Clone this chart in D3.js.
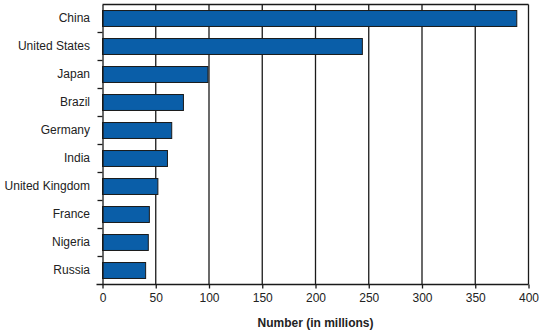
<!DOCTYPE html>
<html><head><meta charset="utf-8">
<script src="https://cdn.jsdelivr.net/npm/d3@7"></script>
<style>body{margin:0;background:#fff}svg{display:block}text{font-family:"Liberation Sans",Arial,sans-serif}</style>
</head><body><svg id="c" width="540" height="334"></svg>
<script>
const categories = ["China","United States","Japan","Brazil","Germany","India","United Kingdom","France","Nigeria","Russia"];
const values = [389, 244, 99, 76, 65, 61, 52, 44, 43, 40.5];
const xTicks = [0,50,100,150,200,250,300,350,400];
const xTitle = "Number (in millions)";

const svg = d3.select("#c");
const m = {l:102.5, r:528.5, t:4.5, b:284.5};
const x = d3.scaleLinear().domain([0,400]).range([m.l, m.r]);
const y = d3.scaleBand().domain(categories).range([m.t, m.b]).paddingInner(0.43).paddingOuter(0.215);
const yb = d3.scaleBand().domain(categories).range([m.t, m.b]);

// grid lines
svg.append("g").selectAll("line").data(xTicks.slice(1)).join("line")
  .attr("x1", d=>x(d)).attr("x2", d=>x(d)).attr("y1", m.t).attr("y2", m.b)
  .attr("stroke","#1a1a1a").attr("stroke-width",1.3);
// top border
svg.append("line").attr("x1",m.l).attr("x2",m.r).attr("y1",m.t).attr("y2",m.t)
  .attr("stroke","#1a1a1a").attr("stroke-width",1.3);

// bars
svg.append("g").selectAll("rect").data(values).join("rect")
  .attr("x", x(0)).attr("y",(d,i)=>y(categories[i]))
  .attr("width", d=>x(d)-x(0)).attr("height", y.bandwidth())
  .attr("fill","#0a5ea8").attr("stroke","#1a1a1a").attr("stroke-width",1);

// y axis
const ya = d3.axisLeft(yb).tickSize(0).tickPadding(12.5);
const yg = svg.append("g").attr("transform",`translate(${m.l},0)`).call(ya);
yg.select(".domain").attr("stroke","#1a1a1a").attr("stroke-width",1.3);
yg.selectAll("text").attr("font-size",12).attr("fill","#222");
// y ticks at band boundaries
svg.append("g").selectAll("line").data(categories.slice(1)).join("line")
  .attr("x1",m.l-5).attr("x2",m.l).attr("y1",d=>yb(d)).attr("y2",d=>yb(d))
  .attr("stroke","#1a1a1a").attr("stroke-width",1.3);

// x axis
const xa = d3.axisBottom(x).tickValues(xTicks).tickSize(4).tickPadding(5).tickSizeOuter(0);
const xg = svg.append("g").attr("transform",`translate(0,${m.b})`).call(xa);
xg.select(".domain").remove();
xg.append("line").attr("x1",m.l-6).attr("x2",m.r).attr("stroke","#1a1a1a").attr("stroke-width",1.3);
xg.selectAll(".tick line").attr("stroke","#1a1a1a").attr("stroke-width",1.3);
xg.selectAll("text").attr("font-size",12).attr("fill","#222");

svg.append("text").attr("x",(m.l+m.r)/2).attr("y",327).attr("text-anchor","middle")
  .attr("font-size",12).attr("font-weight","bold").attr("fill","#222").text(xTitle);
</script></body></html>
